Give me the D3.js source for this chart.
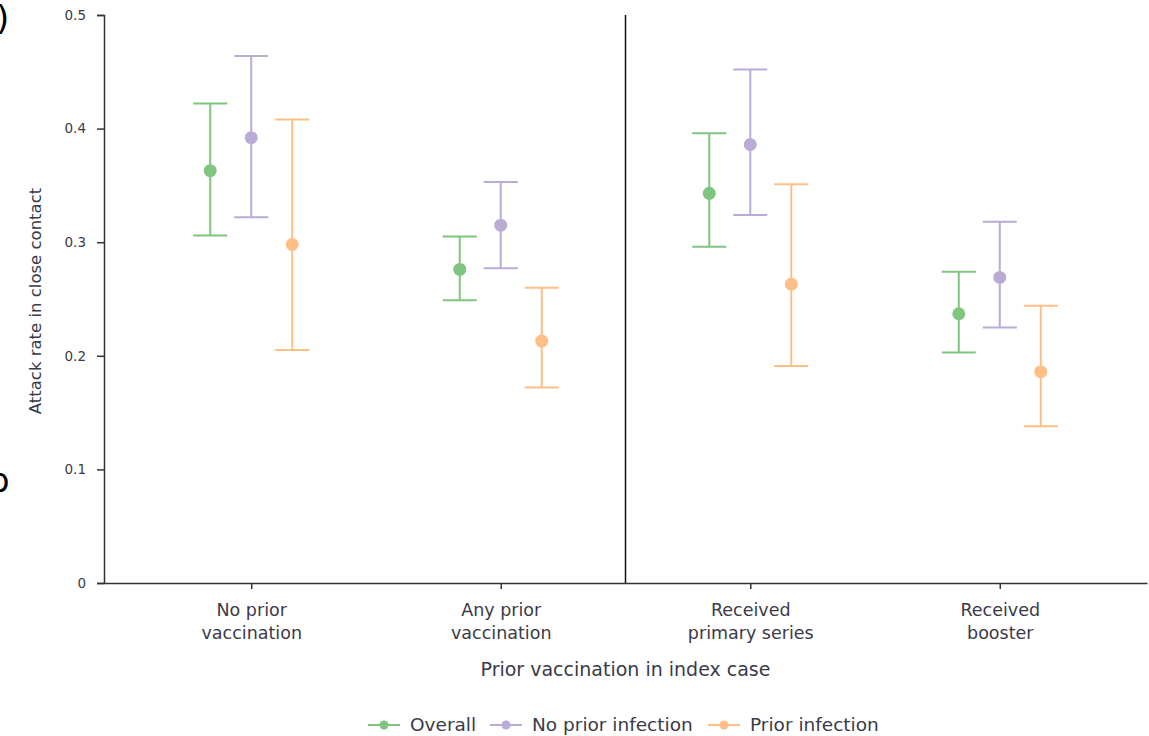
<!DOCTYPE html>
<html>
<head>
<meta charset="utf-8">
<script src="https://cdn.jsdelivr.net/npm/d3@7"></script>
<style>
  body { margin: 0; background: #fff; }
  svg { font-family: "DejaVu Sans", Verdana, sans-serif; }
</style>
</head>
<body>
<div id="chart"></div>
<script>
// attack rate by vaccination status of index case

const categories = ['No prior vaccination', 'Any prior vaccination', 'Received primary series', 'Received booster']
const catLines = [['No prior', 'vaccination'], ['Any prior', 'vaccination'], ['Received', 'primary series'], ['Received', 'booster']]
const seriesNames = ['Overall', 'No prior infection', 'Prior infection']
const seriesColors = ['#7fc57f', '#b9aad6', '#fdbf86']

// point estimates and 95% CI per series, one value per category
const overallEst = [0.363, 0.276, 0.343, 0.237]
const overallLow = [0.306, 0.249, 0.296, 0.203]
const overallHigh = [0.422, 0.305, 0.396, 0.274]

const noInfEst = [0.392, 0.315, 0.386, 0.269]
const noInfLow = [0.322, 0.277, 0.324, 0.225]
const noInfHigh = [0.464, 0.353, 0.452, 0.318]

const priorInfEst = [0.298, 0.213, 0.263, 0.186]
const priorInfLow = [0.205, 0.172, 0.191, 0.138]
const priorInfHigh = [0.408, 0.260, 0.351, 0.244]

const yTicks = [0, 0.1, 0.2, 0.3, 0.4, 0.5]

const width = 1149
const height = 736
const margin = { top: 15, right: 2, bottom: 153, left: 104 }

const svg = d3.select('#chart').append('svg')
  .attr('width', width).attr('height', height)

const x = d3.scalePoint()
  .domain(categories)
  .range([margin.left, width - margin.right])
  .padding(0.59)

const y = d3.scaleLinear()
  .domain([0, 0.5])
  .range([height - margin.bottom, margin.top])

const offset = d3.scalePoint()
  .domain(seriesNames)
  .range([-41, 41])

const series = [
  { name: seriesNames[0], color: seriesColors[0], est: overallEst, low: overallLow, high: overallHigh },
  { name: seriesNames[1], color: seriesColors[1], est: noInfEst, low: noInfLow, high: noInfHigh },
  { name: seriesNames[2], color: seriesColors[2], est: priorInfEst, low: priorInfLow, high: priorInfHigh }
]

const axisColor = '#333'
const textColor = '#3a3a48'

// y axis
const yg = svg.append('g')
  .attr('transform', 'translate(' + margin.left + ',0)')
  .call(d3.axisLeft(y).tickValues(yTicks).tickSize(7).tickPadding(11)
    .tickFormat(d => d === 0 ? '0' : d3.format('.1f')(d)))
yg.select('.domain').attr('stroke', axisColor).attr('stroke-width', 1.5)
yg.selectAll('.tick line').attr('stroke', axisColor).attr('stroke-width', 1.5)
yg.selectAll('.tick text').attr('fill', textColor)
  .style('font-family', '"DejaVu Sans", sans-serif').style('font-size', '13.5px')

// x axis
const xg = svg.append('g')
  .attr('transform', 'translate(0,' + (height - margin.bottom) + ')')
  .call(d3.axisBottom(x).tickSize(6).tickSizeOuter(0).tickFormat(''))
xg.select('.domain').attr('stroke', axisColor).attr('stroke-width', 1.5)
xg.selectAll('.tick line').attr('stroke', axisColor).attr('stroke-width', 1.5)

xg.selectAll('.tick').each(function (d, i) {
  const t = d3.select(this).append('text')
    .attr('fill', textColor)
    .attr('text-anchor', 'middle')
    .style('font-family', '"DejaVu Sans", sans-serif')
    .style('font-size', '17.5px')
  catLines[i].forEach((line, j) => {
    t.append('tspan').attr('x', 0).attr('y', 33 + j * 23).text(line)
  })
})

// divider between the two panels
const mid = (x(categories[1]) + x(categories[2])) / 2
svg.append('line')
  .attr('x1', mid).attr('x2', mid)
  .attr('y1', y(0.5)).attr('y2', y(0))
  .attr('stroke', '#111').attr('stroke-width', 1.5)

// axis titles
svg.append('text')
  .attr('x', mid).attr('y', 676)
  .attr('text-anchor', 'middle')
  .attr('fill', textColor)
  .style('font-size', '19px')
  .text('Prior vaccination in index case')

svg.append('text')
  .attr('transform', 'translate(41,' + ((y(0) + y(0.5)) / 2 + 2) + ') rotate(-90)')
  .attr('text-anchor', 'middle')
  .attr('fill', textColor)
  .style('font-size', '16.5px')
  .text('Attack rate in close contact')

// error bars and points
const capHalf = 17
series.forEach(s => {
  const g = svg.append('g').attr('class', 'series')
  categories.forEach((c, i) => {
    const cx = x(c) + offset(s.name)
    g.append('line')
      .attr('x1', cx).attr('x2', cx)
      .attr('y1', y(s.low[i])).attr('y2', y(s.high[i]))
      .attr('stroke', s.color).attr('stroke-width', 2)
    ;[s.low[i], s.high[i]].forEach(v => {
      g.append('line')
        .attr('x1', cx - capHalf).attr('x2', cx + capHalf)
        .attr('y1', y(v)).attr('y2', y(v))
        .attr('stroke', s.color).attr('stroke-width', 2)
    })
    g.append('circle')
      .attr('cx', cx).attr('cy', y(s.est[i]))
      .attr('r', 6.5)
      .attr('fill', s.color)
  })
})

// legend
const legendX = [368, 490, 708]
const lg = svg.append('g').attr('transform', 'translate(0,725)')
series.forEach((s, i) => {
  const item = lg.append('g').attr('transform', 'translate(' + legendX[i] + ',0)')
  item.append('line').attr('x1', 0).attr('x2', 32).attr('y1', 0).attr('y2', 0)
    .attr('stroke', s.color).attr('stroke-width', 2)
  item.append('circle').attr('cx', 16).attr('cy', 0).attr('r', 4.5).attr('fill', s.color)
  item.append('text').attr('x', 42).attr('y', 6)
    .attr('fill', textColor)
    .style('font-size', '18.5px')
    .text(s.name)
})

// cropped panel labels from the source figure
svg.append('text').attr('x', -4).attr('y', 30)
  .style('font-size', '34px').attr('fill', '#000').text(')')
svg.append('text').attr('x', -12).attr('y', 492)
  .style('font-size', '34px').attr('fill', '#000').text('b')
</script>
</body>
</html>
